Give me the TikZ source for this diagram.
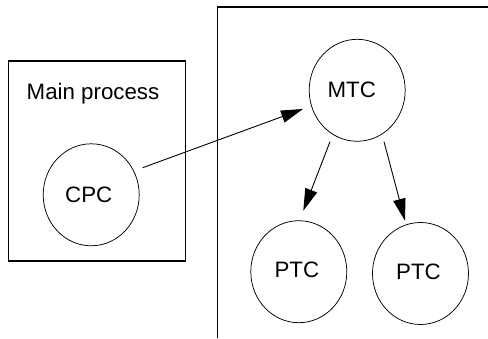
\documentclass[tikz,border=0pt]{standalone}
\usepackage{fontspec}
\setmainfont{Liberation Sans}
\usetikzlibrary{arrows.meta,calc,shapes.geometric}
\begin{document}
\begin{tikzpicture}[x=1pt,y=1pt,
  every node/.style={font=\fontsize{22.3}{26}\selectfont},
  boxline/.style={draw=black,line width=1.1pt},
  proc/.style={ellipse,draw=black,line width=0.75pt,minimum width=96pt,minimum height=102pt,inner sep=0pt},
  arr/.style={draw=black,line width=0.9pt,-{Triangle[length=22pt,width=12.5pt]}}]
\useasboundingbox (0,0) rectangle (488,338);
% boxes
\draw[boxline] (8.3,77) rectangle (185.5,277);
\draw[boxline] (217.5,0) -- (217.5,331) -- (488,331);
\node[anchor=base] (title) at (93,238) {Main process};
% processes
\node[proc,label={[xshift=-2.5pt]center:CPC}] (cpc) at (91.2,143.2) {};
\node[proc,label={[xshift=-5.5pt]center:MTC}] (mtc) at (357.2,247.7) {};
\node[proc,label={[xshift=-2pt,yshift=2pt]center:PTC}] (ptc1) at (298.8,66.3) {};
\node[proc,label={[xshift=-2pt,yshift=2pt]center:PTC}] (ptc2) at (420.5,64.5) {};
% connectors
\draw[arr] ($(cpc)+(51.5,27.1)$) -- ($(mtc)+(-54.2,-18.7)$);
\draw[arr] ($(mtc)+(-27.2,-51.4)$) -- ($(ptc1)+(4.5,61)$);
\draw[arr] ($(mtc)+(26.8,-51.4)$) -- ($(ptc2)+(-15.5,52.8)$);
\end{tikzpicture}
\end{document}
